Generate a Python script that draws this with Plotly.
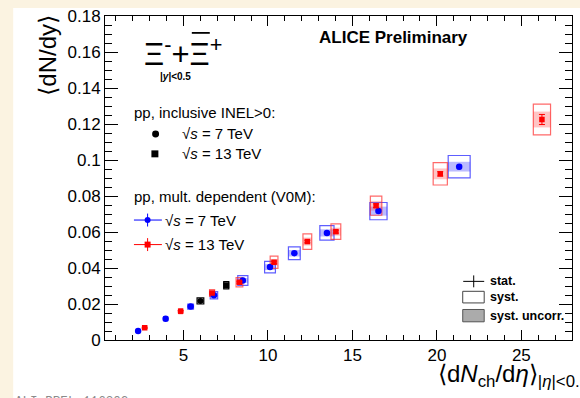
import plotly.graph_objects as go

# ---- Xi- + anti-Xi+ yields vs charged-particle multiplicity ----
# pp, multiplicity classes (V0M), sqrt(s) = 7 TeV
mult7_dndeta = [2.31, 3.94, 5.42, 6.80, 8.51, 10.12, 11.56, 13.49, 16.54, 21.32]
mult7_yield = [0.0050, 0.0118, 0.0186, 0.0249, 0.0331, 0.0405, 0.0482, 0.0595, 0.0716, 0.0963]
mult7_stat = [0.0002, 0.0003, 0.0003, 0.0004, 0.0004, 0.0005, 0.0005, 0.0006, 0.0008, 0.0012]
mult7_syst = [0.0006, 0.0010, 0.0014, 0.0020, 0.0027, 0.0032, 0.0035, 0.0040, 0.0048, 0.0062]
mult7_uncorr = [0.0003, 0.0005, 0.0007, 0.0010, 0.0013, 0.0016, 0.0018, 0.0020, 0.0025, 0.0027]
mult7_xsyst = [0.07, 0.12, 0.17, 0.22, 0.30, 0.32, 0.35, 0.42, 0.51, 0.65]

# pp, multiplicity classes (V0M), sqrt(s) = 13 TeV
mult13_dndeta = [2.70, 4.83, 6.69, 8.31, 10.36, 12.33, 14.02, 16.40, 20.20, 26.22]
mult13_yield = [0.0068, 0.0160, 0.0261, 0.0321, 0.0432, 0.0547, 0.0602, 0.0746, 0.0923, 0.1225]
mult13_stat = [0.0003, 0.0004, 0.0005, 0.0005, 0.0006, 0.0007, 0.0008, 0.0010, 0.0012, 0.0028]
mult13_syst = [0.0007, 0.0013, 0.0019, 0.0026, 0.0034, 0.0043, 0.0043, 0.0053, 0.0062, 0.0085]
mult13_uncorr = [0.0004, 0.0007, 0.0010, 0.0014, 0.0018, 0.0022, 0.0022, 0.0027, 0.0030, 0.0044]
mult13_xsyst = [0.08, 0.10, 0.15, 0.20, 0.23, 0.26, 0.29, 0.34, 0.42, 0.51]

# pp, inclusive INEL>0
incl7_dndeta, incl7_yield, incl7_syst, incl7_xsyst = [6.00], [0.0217], [0.0017], [0.20]
incl13_dndeta, incl13_yield, incl13_syst, incl13_xsyst = [7.53], [0.0304], [0.0020], [0.15]

# axis ticks
x_ticks = [5, 10, 15, 20, 25]
y_ticks = [0, 0.02, 0.04, 0.06, 0.08, 0.10, 0.12, 0.14, 0.16, 0.18]
y_tick_labels = ["0", "0.02", "0.04", "0.06", "0.08", "0.1", "0.12", "0.14", "0.16", "0.18"]

W, H = 580, 398
ML, MR, MT, MB = 105, 7, 14, 58
PW, PH = W - ML - MR, H - MT - MB
FONT = "Liberation Sans"
BLUE, RED = "#0000ff", "#ff0000"


def px(x):
    return (x - ML) / PW


def py(y):
    return (H - MB - y) / PH


shapes = []

# page background border and white canvas
shapes.append(dict(type="rect", xref="paper", yref="paper", layer="below",
                   x0=px(13), x1=px(W + 5), y0=py(H + 5), y1=py(6),
                   fillcolor="white", line=dict(width=0)))


def syst_boxes(xs, ys, dxs, dys, dus, line_col, fill_col):
    out = []
    for x, y, dx, dy, du in zip(xs, ys, dxs, dys, dus):
        if du:
            out.append(dict(type="rect", xref="x", yref="y", layer="below",
                            x0=x - dx, x1=x + dx, y0=y - du, y1=y + du,
                            fillcolor=fill_col, line=dict(width=0)))
        out.append(dict(type="rect", xref="x", yref="y", layer="below",
                        x0=x - dx, x1=x + dx, y0=y - dy, y1=y + dy,
                        fillcolor="rgba(0,0,0,0)", line=dict(color=line_col, width=1.2)))
    return out


shapes += syst_boxes(mult7_dndeta, mult7_yield, mult7_xsyst, mult7_syst, mult7_uncorr,
                     "rgba(40,40,255,0.75)", "rgba(60,60,255,0.35)")
shapes += syst_boxes(mult13_dndeta, mult13_yield, mult13_xsyst, mult13_syst, mult13_uncorr,
                     "rgba(255,40,40,0.7)", "rgba(255,60,60,0.3)")
shapes += syst_boxes(incl7_dndeta, incl7_yield, incl7_xsyst, incl7_syst, [0.0008],
                     "black", "rgba(60,60,60,0.6)")
shapes += syst_boxes(incl13_dndeta, incl13_yield, incl13_xsyst, incl13_syst, [0.0010],
                     "black", "rgba(60,60,60,0.6)")

fig = go.Figure()

fig.add_trace(go.Scatter(
    x=mult7_dndeta, y=mult7_yield, mode="markers",
    marker=dict(symbol="circle", size=6.5, color=BLUE),
    error_y=dict(type="data", array=mult7_stat, color=BLUE, thickness=1, width=2)))
fig.add_trace(go.Scatter(
    x=mult13_dndeta, y=mult13_yield, mode="markers",
    marker=dict(symbol="square", size=5.5, color=RED),
    error_y=dict(type="data", array=mult13_stat, color=RED, thickness=1, width=3)))
fig.add_trace(go.Scatter(
    x=incl7_dndeta, y=incl7_yield, mode="markers",
    marker=dict(symbol="circle", size=6, color="black")))
fig.add_trace(go.Scatter(
    x=incl13_dndeta, y=incl13_yield, mode="markers",
    marker=dict(symbol="square", size=6, color="black")))

annotations = []


def text(x, y, s, size, xanchor="left", yanchor="middle", color="black", family=FONT, angle=0):
    annotations.append(dict(xref="paper", yref="paper", x=px(x), y=py(y), text=s,
                            showarrow=False, xanchor=xanchor, yanchor=yanchor,
                            textangle=angle, font=dict(size=size, color=color, family=family)))


# particle label
text(142, 50, "Ξ<sup>-</sup>+Ξ<sup>+</sup>", 31)
shapes.append(dict(type="line", xref="paper", yref="paper",
                   x0=px(192), x1=px(210), y0=py(31), y1=py(31),
                   line=dict(color="black", width=1.8)))
text(158, 75, "<b>|<i>y</i>|&lt;0.5</b>", 10)

text(317, 36, "<b>ALICE Preliminary</b>", 17)

# legend: inclusive
text(132, 111, "pp, inclusive INEL&gt;0:", 15)
shapes.append(dict(type="circle", xref="paper", yref="paper",
                   x0=px(152.2), x1=px(159.2), y0=py(136.2), y1=py(129.2),
                   fillcolor="black", line=dict(width=0)))
shapes.append(dict(type="rect", xref="paper", yref="paper",
                   x0=px(151.5), x1=px(158.5), y0=py(156.2), y1=py(149.2),
                   fillcolor="black", line=dict(width=0)))
text(180, 132.5, "√<i>s</i> = 7 TeV", 15)
text(180, 152.5, "√<i>s</i> = 13 TeV", 15)

# legend: multiplicity dependent
text(132, 196, "pp, mult. dependent (V0M):", 15)
for yy, col, sym in [(219.3, BLUE, "circle"), (244, RED, "rect")]:
    shapes.append(dict(type="line", xref="paper", yref="paper",
                       x0=px(134), x1=px(162), y0=py(yy), y1=py(yy), line=dict(color=col, width=1)))
    shapes.append(dict(type="line", xref="paper", yref="paper",
                       x0=px(147.7), x1=px(147.7), y0=py(yy - 6.5), y1=py(yy + 6.5),
                       line=dict(color=col, width=1)))
    shapes.append(dict(type=sym, xref="paper", yref="paper",
                       x0=px(144.7), x1=px(150.7), y0=py(yy + 3), y1=py(yy - 3),
                       fillcolor=col, line=dict(width=0)))
text(163, 219.3, "√<i>s</i> = 7 TeV", 15)
text(163, 244, "√<i>s</i> = 13 TeV", 15)

# legend: uncertainties
shapes.append(dict(type="line", xref="paper", yref="paper",
                   x0=px(464), x1=px(485), y0=py(281), y1=py(281), line=dict(color="black", width=1)))
shapes.append(dict(type="line", xref="paper", yref="paper",
                   x0=px(474.5), x1=px(474.5), y0=py(275), y1=py(287), line=dict(color="black", width=1)))
shapes.append(dict(type="rect", xref="paper", yref="paper",
                   x0=px(463.5), x1=px(485), y0=py(302.7), y1=py(291),
                   fillcolor="white", line=dict(color="#444", width=1)))
shapes.append(dict(type="rect", xref="paper", yref="paper",
                   x0=px(463.5), x1=px(485), y0=py(321.7), y1=py(309.3),
                   fillcolor="#ababab", line=dict(color="#555", width=1)))
text(489, 281, "<b>stat.</b>", 12.5)
text(489, 297, "<b>syst.</b>", 12.5)
text(489, 315.5, "<b>syst. uncorr.</b>", 12.5)

# axis titles
text(47, 11, "⟨dN/dy⟩", 24, xanchor="center", yanchor="top", angle=-90)
text(437, 376, "⟨d<i>N</i><sub>ch</sub>/d<i>η</i>⟩<sub>|<i>η</i>|&lt;0.5</sub>", 24)

# figure id
text(13, 393, "ALI-PREL-116302", 12.6, yanchor="top", color="#8a8a8a", family="Liberation Mono")

fig.update_layout(
    width=W, height=H,
    margin=dict(l=ML, r=MR, t=MT, b=MB, pad=0),
    paper_bgcolor="#fbf3e1", plot_bgcolor="white",
    showlegend=False,
    shapes=shapes, annotations=annotations,
    font=dict(family=FONT, color="black"),
)
fig.update_xaxes(
    range=[0.35, 28], tickvals=x_ticks, ticks="inside", ticklen=10, tickcolor="black",
    tickwidth=1, showline=True, linecolor="black", linewidth=1, mirror="allticks",
    showgrid=False, zeroline=False, tickfont=dict(size=17, family=FONT),
    minor=dict(ticks="inside", dtick=1, tick0=0, ticklen=5, tickcolor="black", showgrid=False),
)
fig.update_yaxes(
    range=[0, 0.18], tickvals=y_ticks, ticktext=y_tick_labels, ticks="inside", ticklen=13,
    tickcolor="black", tickwidth=1, showline=True, linecolor="black", linewidth=1,
    mirror="allticks", showgrid=False, zeroline=False, tickfont=dict(size=17, family=FONT),
    minor=dict(ticks="inside", dtick=0.005, tick0=0, ticklen=7, tickcolor="black", showgrid=False),
)

fig.write_html("out.html")
